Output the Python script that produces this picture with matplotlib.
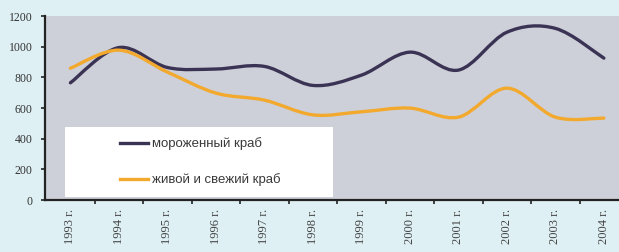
import matplotlib.pyplot as plt
from matplotlib.path import Path
from matplotlib.patches import PathPatch, Rectangle
from matplotlib.lines import Line2D

years = ['1993 г.', '1994 г.', '1995 г.', '1996 г.', '1997 г.', '1998 г.',
         '1999 г.', '2000 г.', '2001 г.', '2002 г.', '2003 г.', '2004 г.']
frozen = [765, 995, 865, 855, 872, 748, 815, 965, 848, 1095, 1120, 926]
fresh = [860, 978, 835, 698, 652, 556, 576, 600, 541, 730, 541, 535]

frozen_color = '#3b3354'
fresh_color = '#f2a92e'


def smooth_path(xs, ys):
    # Catmull-Rom style smoothing drawn as cubic bezier segments (like Excel "smoothed line")
    verts = [(xs[0], ys[0])]
    codes = [Path.MOVETO]
    n = len(xs)
    for i in range(n - 1):
        x0, y0 = (xs[i - 1], ys[i - 1]) if i > 0 else (xs[i], ys[i])
        x1, y1 = xs[i], ys[i]
        x2, y2 = xs[i + 1], ys[i + 1]
        x3, y3 = (xs[i + 2], ys[i + 2]) if i + 2 < n else (x2, y2)
        c1 = (x1 + (x2 - x0) / 6, y1 + (y2 - y0) / 6)
        c2 = (x2 - (x3 - x1) / 6, y2 - (y3 - y1) / 6)
        verts += [c1, c2, (x2, y2)]
        codes += [Path.CURVE4] * 3
    return Path(verts, codes)


fig = plt.figure(figsize=(6.19, 2.52), dpi=100)
fig.patch.set_facecolor('#def0f4')
ax = fig.add_axes([0.073, 0.206, 0.93, 0.730])
ax.set_facecolor('#cdd0d9')

x = list(range(len(years)))
ax.add_patch(PathPatch(smooth_path(x, frozen), fill=False, edgecolor=frozen_color,
                       lw=2.4, capstyle='round', zorder=3))
ax.add_patch(PathPatch(smooth_path(x, fresh), fill=False, edgecolor=fresh_color,
                       lw=2.4, capstyle='round', zorder=3))

ax.set_xlim(-0.52, 11.35)
ax.set_ylim(0, 1200)
ax.set_yticks(range(0, 1201, 200))
ax.set_yticklabels([str(v) for v in range(0, 1201, 200)], fontfamily='Liberation Serif',
                   fontsize=8.5, color='#333333')
ax.set_xticks(x)
ax.set_xticklabels(years, rotation=90, fontfamily='Liberation Serif', fontsize=9,
                   color='#444444')
ax.set_xticks([i + 0.5 for i in range(len(years) - 1)], minor=True)
ax.tick_params(axis='x', which='major', length=0, pad=6)
ax.tick_params(axis='x', which='minor', length=3, width=1.2, direction='out', color='#222222')
ax.tick_params(axis='y', length=3, width=1.2, direction='out', color='#222222', pad=6)

for s in ['top', 'right']:
    ax.spines[s].set_visible(False)
ax.spines['left'].set_linewidth(1.6)
ax.spines['bottom'].set_linewidth(1.6)
ax.spines['left'].set_color('#222222')
ax.spines['bottom'].set_color('#222222')

# white legend panel
ax.add_patch(Rectangle((0.035, 0.016), 0.465, 0.381, transform=ax.transAxes,
                       facecolor='white', edgecolor='none', zorder=2))

handles = [Line2D([], [], color=frozen_color, lw=2.4),
           Line2D([], [], color=fresh_color, lw=2.4)]
leg = ax.legend(handles, ['мороженный краб', 'живой и свежий краб'],
                loc='center left', bbox_to_anchor=(0.13, 0.207),
                frameon=False, borderpad=0, labelspacing=1.75, handlelength=2.1,
                handletextpad=0.35, borderaxespad=0,
                prop={'family': 'Liberation Sans', 'size': 9.5})
for t in leg.get_texts():
    t.set_color('#3a3a3a')
leg.set_zorder(4)

fig.savefig('out.png', dpi=100, facecolor=fig.get_facecolor())
